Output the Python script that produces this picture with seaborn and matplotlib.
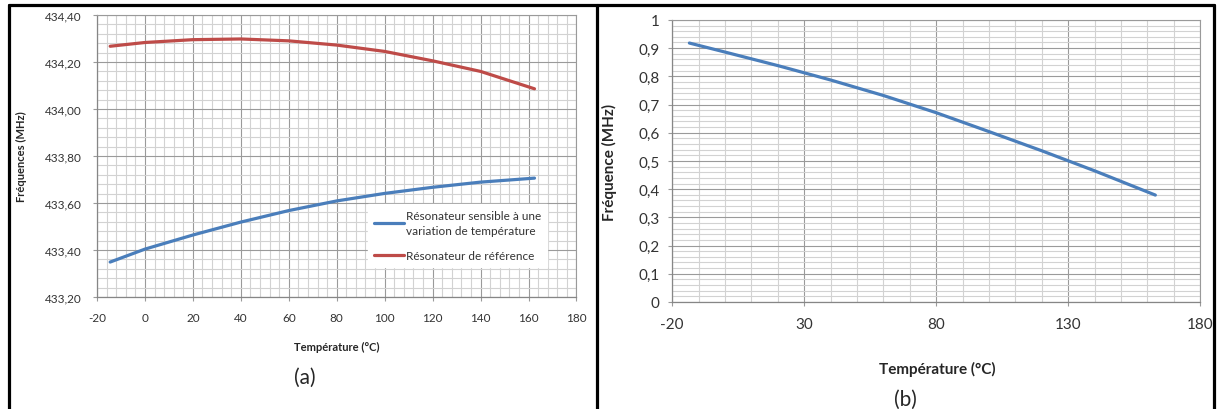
import matplotlib
matplotlib.use("Agg")
import matplotlib.pyplot as plt
import seaborn as sns
from matplotlib.lines import Line2D
from matplotlib.ticker import MultipleLocator, FixedLocator, FuncFormatter

# --- data --- #
temp_a = [-14.5, 0, 20, 40, 60, 80, 100, 120, 140, 162.5]
freq_sensible = [433.349, 433.404, 433.464, 433.519, 433.568, 433.609, 433.641, 433.667, 433.689, 433.706]
freq_reference = [434.267, 434.283, 434.295, 434.298, 434.290, 434.272, 434.245, 434.205, 434.160, 434.086]

temp_b = [-13.5, 0, 20, 40, 60, 80, 100, 120, 140, 163]
freq_diff = [0.918, 0.886, 0.838, 0.787, 0.732, 0.671, 0.604, 0.536, 0.465, 0.379]

xticks_b = [-20, 30, 80, 130, 180]

label_sensible = "Résonateur sensible à une\nvariation de température"
label_reference = "Résonateur de référence"

BLUE = "#4A7EBB"
RED = "#BE4B48"
MAJOR_GRID = "#9a9a9a"
MINOR_GRID = "#d2d2d2"

sns.set_style("white")
plt.rcParams['font.family'] = ['Lato', 'DejaVu Sans']
plt.rcParams['axes.unicode_minus'] = False

fig = plt.figure(figsize=(12.2, 4.1), dpi=100)
ax_a = fig.add_axes([0.0795, 0.273, 0.393, 0.688])
ax_b = fig.add_axes([0.551, 0.261, 0.4328, 0.688])


def excel_grid(ax, tick_size):
    ax.grid(which='major', color=MAJOR_GRID, lw=0.8)
    ax.grid(which='minor', color=MINOR_GRID, lw=0.8)
    ax.set_axisbelow(True)
    ax.tick_params(which='major', length=3, width=0.8, color=MAJOR_GRID,
                   labelsize=tick_size, labelcolor='#333333', pad=8, direction='out')
    ax.tick_params(which='minor', length=0)
    ax.tick_params(axis='x', bottom=True)
    ax.tick_params(axis='y', left=True)
    for side in ['top', 'right']:
        ax.spines[side].set_color(MAJOR_GRID)
        ax.spines[side].set_linewidth(0.8)
    for side in ['left', 'bottom']:
        ax.spines[side].set_color('#868686')
        ax.spines[side].set_linewidth(0.9)


# --- (a) both resonators --- #
sns.lineplot(x=temp_a, y=freq_sensible, ax=ax_a, color=BLUE, lw=2.3, label=label_sensible)
sns.lineplot(x=temp_a, y=freq_reference, ax=ax_a, color=RED, lw=2.3, label=label_reference)
ax_a.set_xlim(-20, 180)
ax_a.set_ylim(433.2, 434.4)
ax_a.xaxis.set_major_locator(MultipleLocator(20))
ax_a.xaxis.set_minor_locator(MultipleLocator(4))
ax_a.yaxis.set_major_locator(MultipleLocator(0.2))
ax_a.yaxis.set_minor_locator(MultipleLocator(0.04))
excel_grid(ax_a, 8.5)
ax_a.yaxis.set_major_formatter(FuncFormatter(lambda v, p: f"{v:.2f}".replace('.', ',')))
ax_a.set_xlabel("Température (°C)", fontsize=8, fontweight='bold')
ax_a.set_ylabel("Fréquences (MHz)", fontsize=8, fontweight='bold')
ax_a.xaxis.set_label_coords(0.5, -0.155)
ax_a.yaxis.set_label_coords(-0.146, 0.5)
leg = ax_a.legend(loc='upper left', bbox_to_anchor=(0.565, 0.33), fontsize=8.5,
                  frameon=True, fancybox=False, handlelength=2.6, handletextpad=0.1,
                  labelspacing=1.2, borderpad=0.5, borderaxespad=0)
leg.get_frame().set_facecolor('white')
leg.get_frame().set_edgecolor('white')
leg.get_frame().set_alpha(1)
for t in leg.get_texts():
    t.set_linespacing(1.45)
    t.set_color('#333333')

# --- (b) frequency difference --- #
sns.lineplot(x=temp_b, y=freq_diff, ax=ax_b, color=BLUE, lw=2.3, legend=False)
ax_b.set_xlim(-20, 180)
ax_b.set_ylim(0, 1)
ax_b.xaxis.set_major_locator(FixedLocator(xticks_b))
ax_b.xaxis.set_minor_locator(MultipleLocator(10))
ax_b.yaxis.set_major_locator(MultipleLocator(0.1))
ax_b.yaxis.set_minor_locator(MultipleLocator(0.02))
excel_grid(ax_b, 11)
ax_b.tick_params(axis='y', pad=6)
ax_b.yaxis.set_major_formatter(FuncFormatter(lambda v, p: f"{v:.1f}".replace('.', ',') if 0.05 < v < 0.95 else f"{v:.0f}"))
ax_b.set_xlabel("Température (°C)", fontsize=11, fontweight='bold')
ax_b.set_ylabel("Fréquence (MHz)", fontsize=11, fontweight='bold')
ax_b.xaxis.set_label_coords(0.502, -0.21)
ax_b.yaxis.set_label_coords(-0.104, 0.5)

# panel captions
fig.text(0.25, 0.078, "(a)", fontsize=15, ha='center', va='center')
fig.text(0.742, 0.024, "(b)", fontsize=15, ha='center', va='center')

# black frames around the two panels
W, H = 1220, 410
def fline(x0, y0, x1, y1):
    fig.add_artist(Line2D([x0 / W, x1 / W], [1 - y0 / H, 1 - y1 / H],
                          color='black', lw=2.3, transform=fig.transFigure))

fline(9, 6, 1214, 6)
fline(9, 6, 9, 410)
fline(597, 6, 597, 410)
fline(1214, 6, 1214, 410)

fig.savefig("out.png", dpi=100)
